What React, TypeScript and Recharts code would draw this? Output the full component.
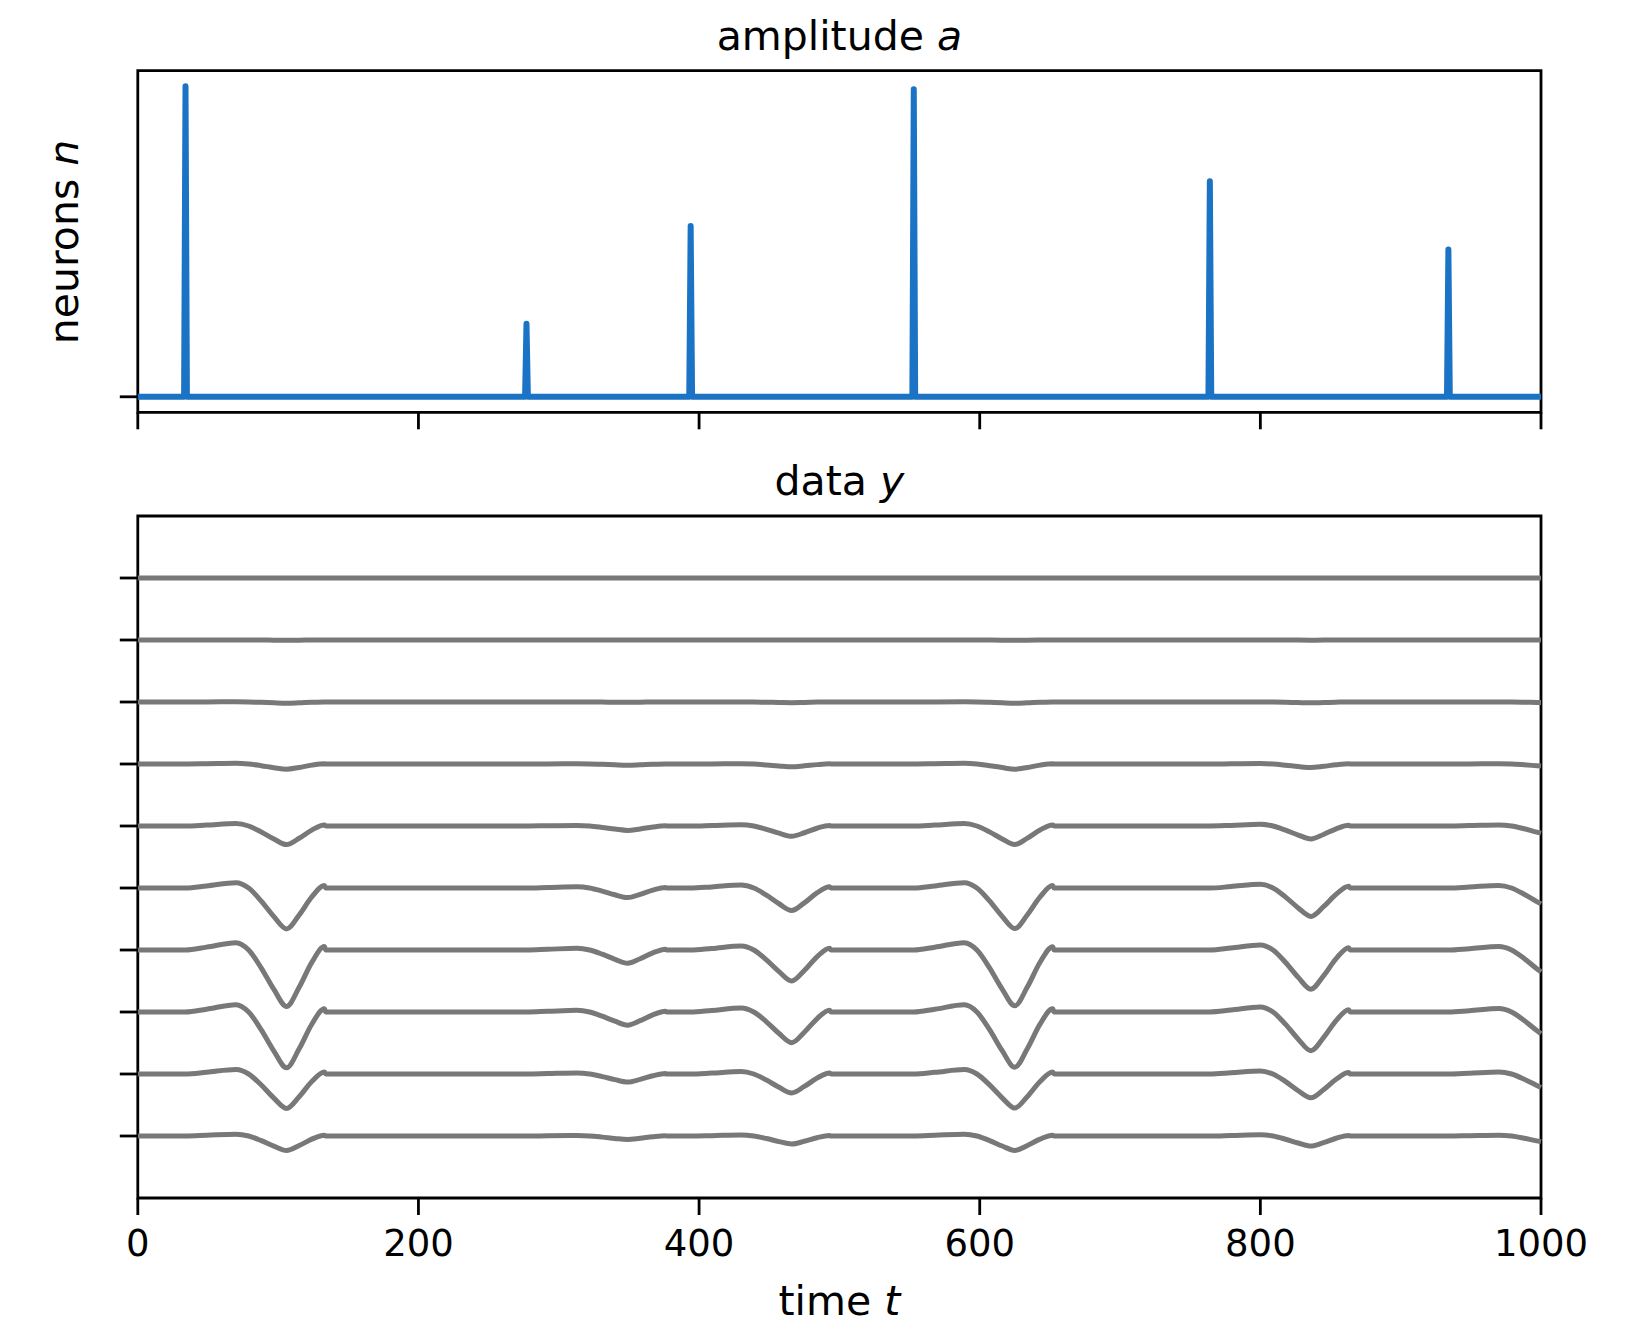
import React from 'react';
import { LineChart, Line, XAxis, YAxis, ReferenceArea } from 'recharts';

const W = 1625;
const H = 1326;

// ---- top panel: amplitude a (spikes) ----
const ampTimes = [0, 33, 34, 35, 276, 277, 278, 393, 394, 395, 552, 553, 554, 763, 764, 765, 933, 934, 935, 1000];
const ampValues = [0, 0, 1.0, 0, 0, 0.235, 0, 0, 0.55, 0, 0, 0.99, 0, 0, 0.694, 0, 0, 0.474, 0, 0];

const timeTicks = [0, 200, 400, 600, 800, 1000];
const ampTicks = [0];
const neuronTicks = [0, 1, 2, 3, 4, 5, 6, 7, 8, 9];

// ---- bottom panel: data y, one trace per neuron (top trace first) ----
const traceTimes = [0,
  34, 49, 70, 79, 88, 97, 106, 115, 124, 133, 134,
  277, 292, 313, 322, 331, 340, 349, 358, 367, 376, 377,
  394, 409, 430, 439, 448, 457, 466, 475, 484, 493, 494,
  553, 568, 589, 598, 607, 616, 625, 634, 643, 652, 653,
  764, 779, 800, 809, 818, 827, 836, 845, 854, 863, 864,
  934, 949, 970, 979, 988, 997, 1000];

const traceOffsets = [9, 8, 7, 6, 5, 4, 3, 2, 1, 0];

const trace0 = [0,
  0, 0, 0, 0, 0, 0, 0, 0, 0, 0, 0,
  0, 0, 0, 0, 0, 0, 0, 0, 0, 0, 0,
  0, 0, 0, 0, 0, 0, 0, 0, 0, 0, 0,
  0, 0, 0, 0, 0, 0, 0, 0, 0, 0, 0,
  0, 0, 0, 0, 0, 0, 0, 0, 0, 0, 0,
  0, 0, 0, 0, 0, 0, 0];
const trace1 = [0,
  0, 0, 0, 0, -0.001, -0.003, -0.004, -0.003, -0.001, 0, 0,
  0, 0, 0, 0, 0, 0, -0.001, 0, 0, 0, 0,
  0, 0, 0, 0, -0.001, -0.002, -0.002, -0.001, 0, 0, 0,
  0, 0, 0, 0, -0.001, -0.003, -0.004, -0.003, -0.001, 0, 0,
  0, 0, 0, 0, -0.001, -0.002, -0.003, -0.002, -0.001, 0, 0,
  0, 0, 0, 0, -0.001, -0.001, -0.002];
const trace2 = [0,
  0, 0.001, 0.003, 0, -0.006, -0.014, -0.02, -0.013, -0.004, 0.001, 0,
  0, 0, 0.001, 0, -0.002, -0.003, -0.005, -0.003, -0.001, 0, 0,
  0, 0.001, 0.001, 0, -0.004, -0.008, -0.011, -0.007, -0.002, 0.001, 0,
  0, 0.001, 0.003, 0, -0.006, -0.014, -0.02, -0.013, -0.004, 0.001, 0,
  0, 0.001, 0.002, 0, -0.004, -0.01, -0.014, -0.009, -0.003, 0.001, 0,
  0, 0, 0.001, 0, -0.003, -0.007, -0.008];
const trace3 = [0,
  0, 0.004, 0.011, 0, -0.027, -0.059, -0.084, -0.055, -0.018, 0.005, 0,
  0, 0.001, 0.003, 0, -0.006, -0.014, -0.02, -0.013, -0.004, 0.001, 0,
  0, 0.002, 0.006, 0, -0.015, -0.032, -0.046, -0.03, -0.01, 0.003, 0,
  0, 0.004, 0.011, 0, -0.027, -0.058, -0.083, -0.055, -0.018, 0.005, 0,
  0, 0.003, 0.008, 0, -0.019, -0.041, -0.058, -0.038, -0.013, 0.003, 0,
  0, 0.002, 0.005, 0, -0.013, -0.028, -0.033];
const trace4 = [0,
  0, 0.015, 0.039, 0, -0.096, -0.21, -0.30, -0.198, -0.066, 0.018, 0,
  0, 0.004, 0.009, 0, -0.023, -0.049, -0.071, -0.047, -0.016, 0.004, 0,
  0, 0.008, 0.021, 0, -0.053, -0.116, -0.165, -0.109, -0.036, 0.01, 0,
  0, 0.015, 0.039, 0, -0.095, -0.208, -0.297, -0.196, -0.065, 0.018, 0,
  0, 0.01, 0.027, 0, -0.067, -0.146, -0.208, -0.137, -0.046, 0.012, 0,
  0, 0.007, 0.018, 0, -0.045, -0.099, -0.116];
const trace5 = [0,
  0, 0.033, 0.086, 0, -0.211, -0.462, -0.66, -0.436, -0.145, 0.04, 0,
  0, 0.008, 0.02, 0, -0.05, -0.109, -0.155, -0.102, -0.034, 0.009, 0,
  0, 0.018, 0.047, 0, -0.116, -0.254, -0.363, -0.24, -0.08, 0.022, 0,
  0, 0.033, 0.085, 0, -0.209, -0.457, -0.653, -0.431, -0.144, 0.039, 0,
  0, 0.023, 0.06, 0, -0.147, -0.321, -0.458, -0.302, -0.101, 0.027, 0,
  0, 0.016, 0.041, 0, -0.1, -0.219, -0.257];
const trace6 = [0,
  0, 0.046, 0.118, 0, -0.291, -0.637, -0.91, -0.601, -0.2, 0.055, 0,
  0, 0.011, 0.028, 0, -0.068, -0.15, -0.214, -0.141, -0.047, 0.013, 0,
  0, 0.025, 0.065, 0, -0.16, -0.35, -0.5, -0.33, -0.11, 0.03, 0,
  0, 0.045, 0.117, 0, -0.288, -0.63, -0.9, -0.594, -0.198, 0.054, 0,
  0, 0.032, 0.082, 0, -0.202, -0.442, -0.632, -0.417, -0.139, 0.038, 0,
  0, 0.022, 0.056, 0, -0.138, -0.302, -0.353];
const trace7 = [0,
  0, 0.045, 0.117, 0, -0.288, -0.63, -0.9, -0.594, -0.198, 0.054, 0,
  0, 0.011, 0.027, 0, -0.068, -0.148, -0.212, -0.14, -0.047, 0.013, 0,
  0, 0.025, 0.064, 0, -0.158, -0.347, -0.495, -0.327, -0.109, 0.03, 0,
  0, 0.045, 0.116, 0, -0.285, -0.624, -0.891, -0.588, -0.196, 0.053, 0,
  0, 0.031, 0.081, 0, -0.2, -0.438, -0.625, -0.413, -0.138, 0.038, 0,
  0, 0.021, 0.056, 0, -0.137, -0.299, -0.35];
const trace8 = [0,
  0, 0.028, 0.072, 0, -0.178, -0.389, -0.555, -0.366, -0.122, 0.033, 0,
  0, 0.007, 0.017, 0, -0.042, -0.091, -0.13, -0.086, -0.029, 0.008, 0,
  0, 0.015, 0.04, 0, -0.098, -0.214, -0.305, -0.201, -0.067, 0.018, 0,
  0, 0.027, 0.071, 0, -0.176, -0.384, -0.549, -0.362, -0.121, 0.033, 0,
  0, 0.019, 0.05, 0, -0.123, -0.27, -0.385, -0.254, -0.085, 0.023, 0,
  0, 0.013, 0.034, 0, -0.084, -0.184, -0.216];
const trace9 = [0,
  0, 0.012, 0.03, 0, -0.075, -0.164, -0.234, -0.154, -0.051, 0.014, 0,
  0, 0.003, 0.007, 0, -0.018, -0.039, -0.055, -0.036, -0.012, 0.003, 0,
  0, 0.006, 0.017, 0, -0.041, -0.09, -0.129, -0.085, -0.028, 0.008, 0,
  0, 0.012, 0.03, 0, -0.074, -0.162, -0.232, -0.153, -0.051, 0.014, 0,
  0, 0.008, 0.021, 0, -0.052, -0.113, -0.162, -0.107, -0.036, 0.01, 0,
  0, 0.006, 0.014, 0, -0.036, -0.078, -0.091];

const traces = [trace0, trace1, trace2, trace3, trace4, trace5, trace6, trace7, trace8, trace9];

const ampData = ampTimes.map((t, i) => ({ t, a: ampValues[i] }));
const traceData = traceTimes.map((t, i) => {
  const row: Record<string, number> = { t };
  traces.forEach((tr, k) => {
    row[`n${k}`] = traceOffsets[k] + tr[i];
  });
  return row;
});

const FONT = "'DejaVu Sans', sans-serif";
const BLUE = '#1a73c4';
const GRAY = '#787878';
const LEFT = 137.8;
const RIGHT = 1541;
const TOP1 = 70.7;
const BOT1 = 412.3;
const TOP2 = 516;
const BOT2 = 1198;
const XAXIS_H = 80;
const YAXIS_W = 40;

const tickLineStyle = { stroke: '#000', strokeWidth: 2.8 };

export default function App() {
  return (
    <div style={{ position: 'absolute', left: 0, top: 0, width: W, height: H, background: '#fff', overflow: 'hidden' }}>
      <div style={{ position: 'absolute', left: 0, top: 0 }}>
        <LineChart
          width={W}
          height={H}
          data={ampData}
          margin={{ top: TOP1, right: W - RIGHT, bottom: H - BOT1 - XAXIS_H, left: LEFT - YAXIS_W }}
        >
          <XAxis
            type="number"
            dataKey="t"
            domain={[0, 1000]}
            ticks={timeTicks}
            height={XAXIS_H}
            axisLine={false}
            tickLine={tickLineStyle}
            tickSize={17}
            tickFormatter={() => ''}
            interval={0}
          />
          <YAxis
            type="number"
            domain={[-0.05, 1.05]}
            ticks={ampTicks}
            width={YAXIS_W}
            axisLine={false}
            tickLine={tickLineStyle}
            tickSize={18}
            tickFormatter={() => ''}
            interval={0}
          />
          <Line
            type="linear"
            dataKey="a"
            stroke={BLUE}
            strokeWidth={6}
            strokeLinejoin="round"
            dot={false}
            activeDot={false}
            isAnimationActive={false}
          />
          <ReferenceArea x1={0} x2={1000} y1={-0.05} y2={1.05} fill="none" stroke="#000" strokeWidth={2.8} ifOverflow="visible" />
        </LineChart>
      </div>
      <div style={{ position: 'absolute', left: 0, top: 0 }}>
        <LineChart
          width={W}
          height={H}
          data={traceData}
          margin={{ top: TOP2, right: W - RIGHT, bottom: H - BOT2 - XAXIS_H, left: LEFT - YAXIS_W }}
        >
          <XAxis
            type="number"
            dataKey="t"
            domain={[0, 1000]}
            ticks={timeTicks}
            height={XAXIS_H}
            axisLine={false}
            tickLine={tickLineStyle}
            tickSize={17}
            tickMargin={15}
            interval={0}
            tick={{ fill: '#000', fontSize: 37, fontFamily: FONT }}
          />
          <YAxis
            type="number"
            domain={[-1, 10]}
            ticks={neuronTicks}
            width={YAXIS_W}
            axisLine={false}
            tickLine={tickLineStyle}
            tickSize={18}
            tickFormatter={() => ''}
            interval={0}
          />
          {traces.map((_, k) => (
            <Line
              key={k}
              type="monotone"
              dataKey={`n${k}`}
              stroke={GRAY}
              strokeWidth={5}
              dot={false}
              activeDot={false}
              isAnimationActive={false}
            />
          ))}
          <ReferenceArea x1={0} x2={1000} y1={-1} y2={10} fill="none" stroke="#000" strokeWidth={2.8} ifOverflow="visible" />
        </LineChart>
      </div>
      <svg width={W} height={H} style={{ position: 'absolute', left: 0, top: 0, pointerEvents: 'none' }}>
        <g fontFamily={FONT} fontSize={41} fill="#000">
          <text x={(LEFT + RIGHT) / 2} y={50} textAnchor="middle">
            amplitude <tspan fontStyle="italic">a</tspan>
          </text>
          <text x={(LEFT + RIGHT) / 2} y={495} textAnchor="middle">
            data <tspan fontStyle="italic">y</tspan>
          </text>
          <text x={(LEFT + RIGHT) / 2} y={1315} textAnchor="middle">
            time <tspan fontStyle="italic">t</tspan>
          </text>
          <text x={78} y={242} textAnchor="middle" transform="rotate(-90 78 242)">
            neurons <tspan fontStyle="italic">n</tspan>
          </text>
        </g>
      </svg>
    </div>
  );
}
